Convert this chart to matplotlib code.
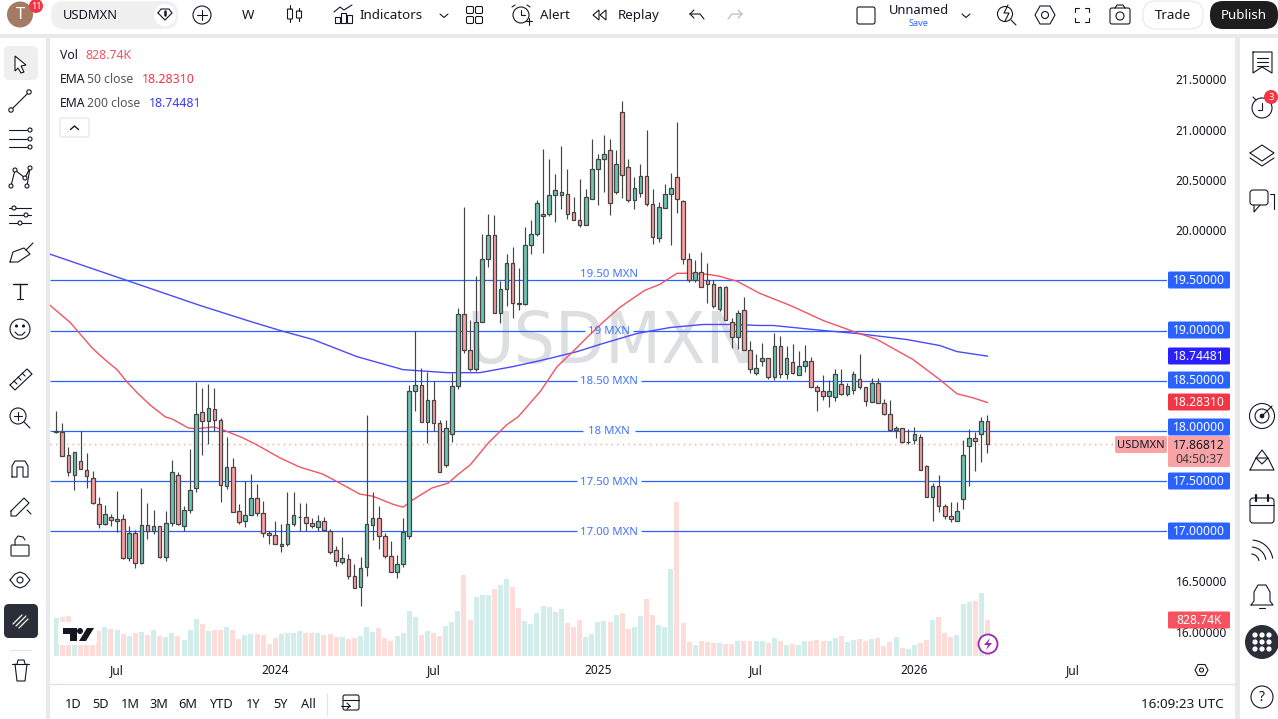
import matplotlib
matplotlib.use("Agg")
import matplotlib.pyplot as plt
from matplotlib.patches import Rectangle, FancyBboxPatch, Circle, Polygon
import math

plt.rcParams['font.family'] = ['Noto Sans', 'DejaVu Sans']

opens = [17.99,17.99,17.76,17.56,17.70,17.61,17.53,17.27,17.07,17.14,
 17.10,17.12,16.73,16.98,16.68,17.06,17.00,17.05,16.74,17.08,
 17.56,17.05,17.21,17.43,18.19,18.10,18.22,18.11,17.45,17.64,
 17.20,17.10,17.16,17.33,17.18,16.98,16.96,16.85,16.87,17.07,
 17.14,17.14,17.08,17.04,17.10,17.00,16.81,16.69,16.72,16.55,
 16.45,16.64,17.06,17.13,16.95,16.75,16.59,16.67,16.95,18.40,
 18.46,18.09,18.31,18.08,17.66,17.97,18.45,19.16,18.81,18.62,
 19.08,19.71,19.95,19.17,19.41,19.67,19.27,19.26,19.85,19.96,
 20.14,20.16,20.35,20.35,20.36,20.18,20.10,20.05,20.31,20.61,
 20.71,20.80,20.38,21.18,20.63,20.30,20.37,20.54,20.26,19.92,
 20.22,20.36,20.53,20.29,19.71,19.50,19.58,19.50,19.46,19.21,
 19.43,19.08,18.94,19.20,18.81,18.58,18.70,18.73,18.54,18.85,
 18.57,18.69,18.56,18.65,18.70,18.44,18.40,18.35,18.34,18.47,
 18.37,18.41,18.52,18.44,18.29,18.48,18.28,18.17,18.01,18.03,
 17.885,17.91,17.94,17.65,17.34,17.45,17.25,17.15,17.10,17.32,
 17.85,17.93,17.97,18.10]
closes = [18.00,17.75,17.59,17.79,17.62,17.55,17.28,17.07,17.17,17.11,
 17.12,16.73,16.98,16.68,17.06,17.00,17.05,16.74,17.08,17.59,
 17.07,17.21,17.41,18.17,18.10,18.23,18.11,17.46,17.64,17.19,
 17.09,17.16,17.33,17.18,16.98,16.96,16.87,16.87,17.07,17.16,
 17.14,17.08,17.05,17.10,17.01,16.79,16.70,16.73,16.55,16.44,
 16.63,17.07,17.13,16.95,16.75,16.59,16.67,16.99,18.40,18.46,
 18.09,18.31,18.08,17.59,18.03,18.45,19.16,18.81,18.62,19.08,
 19.71,19.95,19.17,19.41,19.67,19.27,19.26,19.85,19.96,20.27,
 20.16,20.35,20.40,20.38,20.16,20.10,20.05,20.33,20.61,20.71,
 20.76,20.27,20.66,20.55,20.30,20.42,20.54,20.26,19.93,20.23,
 20.36,20.42,20.31,19.71,19.50,19.58,19.43,19.46,19.24,19.43,
 19.10,18.94,19.17,18.81,18.62,18.63,18.73,18.54,18.85,18.57,
 18.73,18.58,18.65,18.70,18.44,18.40,18.35,18.40,18.57,18.37,
 18.45,18.57,18.44,18.30,18.48,18.28,18.17,18.01,18.03,17.89,
 17.89,17.97,17.61,17.34,17.45,17.25,17.15,17.12,17.20,17.76,
 17.93,17.90,18.10,17.868]
highs = [18.20,18.08,17.84,17.79,18.00,17.78,17.60,17.34,17.26,17.17,
 17.40,17.17,17.05,17.01,17.43,17.28,17.21,17.05,17.20,17.71,
 17.59,17.25,17.82,18.49,18.43,18.47,18.43,18.13,17.94,17.73,
 17.27,17.50,17.57,17.47,17.30,17.00,17.10,17.07,17.39,17.39,
 17.28,17.28,17.13,17.16,17.14,17.02,16.85,16.94,16.77,16.67,
 16.74,18.16,17.39,17.25,16.98,16.90,16.76,17.13,18.46,19.00,
 18.63,18.59,18.50,18.11,18.11,18.58,19.22,20.23,19.10,19.54,
 19.96,20.16,20.15,19.49,19.76,19.83,19.62,20.03,20.10,20.30,
 20.81,20.71,20.56,20.84,20.61,20.33,20.51,20.41,20.91,20.76,
 20.95,20.91,20.80,21.29,20.71,20.53,20.66,21.00,20.41,20.28,
 20.46,20.57,21.08,20.30,19.77,19.70,19.78,19.67,19.50,19.44,
 19.44,19.12,19.20,19.33,18.90,18.77,18.88,18.73,18.98,18.95,
 18.85,18.87,18.80,18.86,18.74,18.46,18.56,18.51,18.62,18.62,
 18.48,18.60,18.77,18.44,18.53,18.53,18.32,18.31,18.05,18.03,
 18.02,18.04,17.97,17.66,17.48,17.56,17.27,17.29,17.29,17.91,
 18.02,17.99,18.14,18.16]
lows = [17.98,17.75,17.55,17.41,17.62,17.43,17.27,17.03,17.06,17.05,
 16.99,16.72,16.70,16.63,16.67,16.92,16.97,16.73,16.70,17.05,
 17.06,17.00,17.18,17.39,17.76,17.87,18.00,17.29,17.42,17.19,
 17.07,17.04,17.16,17.15,16.94,16.87,16.87,16.79,16.85,17.05,
 17.00,17.00,17.03,17.00,17.01,16.77,16.65,16.67,16.52,16.44,
 16.26,16.55,16.91,16.82,16.73,16.59,16.53,16.64,16.92,18.20,
 18.09,17.88,18.00,17.59,17.64,17.89,18.42,18.78,18.60,18.60,
 19.08,19.63,19.17,19.07,19.24,19.12,19.20,19.25,19.76,19.94,
 19.77,20.14,20.08,20.21,20.11,20.10,20.03,20.05,20.31,20.25,
 20.38,20.15,20.36,20.32,20.28,20.21,20.33,20.24,19.86,19.88,
 20.22,19.85,20.17,19.66,19.48,19.48,19.43,19.27,19.22,19.19,
 19.10,18.83,18.82,18.81,18.58,18.56,18.65,18.52,18.51,18.53,
 18.52,18.57,18.56,18.59,18.44,18.20,18.31,18.24,18.30,18.36,
 18.35,18.37,18.42,18.25,18.29,18.28,18.16,18.00,17.93,17.88,
 17.87,17.87,17.61,17.34,17.10,17.19,17.12,17.09,17.10,17.22,
 17.45,17.60,17.69,17.78]
volumes_k = [874,897,920,782,736,644,560,575,667,621,
 598,506,460,529,552,483,598,460,437,529,
 460,368,598,851,736,575,598,598,667,598,
 391,483,506,506,483,276,414,506,529,529,
 575,529,529,529,483,506,437,437,391,414,
 460,667,552,644,414,345,460,529,1035,897,
 483,575,529,460,690,782,1035,1864,828,1358,
 1404,1404,1542,1634,1772,1588,1104,805,736,989,
 1151,1127,1012,1081,759,667,828,437,506,782,
 805,782,943,989,621,667,920,1312,943,713,
 667,2002,3544,759,322,253,345,322,299,299,
 276,276,345,345,345,345,345,299,414,345,
 253,276,253,345,345,368,345,345,414,460,
 322,368,391,345,391,414,230,322,437,184,
 161,253,299,368,828,897,529,437,483,1197,
 1243,1266,1450,829]
ema50_idx = [-1,2.3,6,8,10,11.6,13.3,15.4,17.9,19,21.7,23,25.8,27,30.7,33,36.8,40,43.8,46.6,49.9,52,55.3,57,58.5,61.7,64.4,65.9,68,71,74,75.9,79.5,82.3,84.9,87.2,89.8,92.6,96.7,99.2,102,103.6,107,109,111.9,115.6,120.6,126,131,134.9,140.8,145.2,148,150.6,153]
ema50_val = [19.25,19.08,18.82,18.71,18.61,18.49,18.38,18.26,18.14,18.12,18.03,18.02,18.04,18.02,17.93,17.86,17.73,17.64,17.57,17.48,17.37,17.35,17.27,17.24,17.31,17.43,17.48,17.56,17.66,17.88,18.06,18.14,18.39,18.64,18.79,18.93,19.08,19.23,19.40,19.46,19.57,19.57,19.56,19.54,19.49,19.37,19.25,19.10,18.99,18.91,18.71,18.51,18.37,18.33,18.2831]
ema200_idx = [-1,7.2,15.4,23.6,31.9,36.8,42.2,49.4,57,64.2,69.6,75,79.5,81.6,85.6,89.8,95.4,100.9,106.3,111.2,115.6,117.8,126,131.6,139.8,145.2,148,153]
ema200_val = [19.76,19.59,19.42,19.25,19.09,19.00,18.91,18.74,18.61,18.58,18.58,18.64,18.70,18.73,18.79,18.87,18.97,19.03,19.06,19.06,19.05,19.05,19.00,18.97,18.91,18.85,18.79,18.7448]
levels = [19.5,19.0,18.5,18.0,17.5,17.0]
level_labels = ["19.50 MXN","19 MXN","18.50 MXN","18 MXN","17.50 MXN","17.00 MXN"]
price_ticks = [16.0,16.5,20.0,20.5,21.0,21.5]
time_ticks = [10,36,62,89,115,141,167]
time_labels = ["Jul","2024","Jul","2025","Jul","2026","Jul"]
bold_time = {"2024","2025","2026"}

W, H = 1278, 719
fig = plt.figure(figsize=(W/100, H/100), dpi=100, facecolor='#e9e9eb')
def rect(l, t, r, b):
    return [l/W, 1-b/H, (r-l)/W, (b-t)/H]

bg = fig.add_axes([0,0,1,1], zorder=-1); bg.set_xlim(0,W); bg.set_ylim(H,0); bg.axis('off')
for (l,t,r,b) in [(0,0,W,34),(0,38,46,H),(50,38,1235,H),(1240,38,W,H)]:
    bg.add_patch(Rectangle((l,t),r-l,b-t,fc='white',ec='none'))
bg.plot([50,1235],[684,684],color='#e0e3eb',lw=1)

L,T,R,B = 50,38,1167,660
PX = 6.086
xlim = ((L-56.2)/PX,(R-56.2)/PX)
PPU = 100.4
ylim = (17+(531.3-B)/PPU, 17+(531.3-T)/PPU)

axv = fig.add_axes(rect(L,T,R,B), zorder=0, facecolor='none')
axv.set_xlim(*xlim)
kpp = 828.74/36
axv.set_ylim(-(B-656)*kpp,(656-T)*kpp)
axv.axis('off')
xs = list(range(len(opens)))
up = [c>=o for o,c in zip(opens,closes)]
axv.bar(xs,volumes_k,width=0.82,color=['#d2eeea' if u else '#fddcda' for u in up],lw=0,zorder=2)
axv.text((610.5-L)/(R-L),(B-344)/(B-T),"USDMXN",transform=axv.transAxes,ha='center',va='center',
         fontsize=52,color='#dddee1',zorder=1,family='DejaVu Sans',fontstretch='condensed')

ax = fig.add_axes(rect(L,T,R,B), zorder=1, facecolor='none')
ax.set_xlim(*xlim); ax.set_ylim(*ylim)
for s in ax.spines.values(): s.set_visible(False)
ax.yaxis.tick_right()
ax.set_yticks(price_ticks, [f"{p:.5f}" for p in price_ticks])
ax.tick_params(axis='y',length=0,pad=6.2,labelsize=8.6,labelcolor='#131722')
ax.set_xticks(time_ticks, time_labels)
ax.tick_params(axis='x',length=0,pad=3,labelsize=8.6,labelcolor='#131722')
for t in ax.get_xticklabels():
    if t.get_text() in bold_time: t.set_fontweight('bold')

yt = ax.get_yaxis_transform()
fx = lambda px:(px-L)/(R-L)
gaps = [None,(585,633),(577,641),(583,635),(577,641),(577,641)]
label_off = [-6,1,1,1,1,1]
for lv,lab,g,off in zip(levels,level_labels,gaps,label_off):
    if g is None:
        ax.plot([0,1],[lv,lv],transform=yt,color='#2962ff',lw=0.9,zorder=3,solid_capstyle='butt')
    else:
        ax.plot([0,fx(g[0])],[lv,lv],transform=yt,color='#2962ff',lw=0.9,zorder=3,solid_capstyle='butt')
        ax.plot([fx(g[1]),1],[lv,lv],transform=yt,color='#2962ff',lw=0.9,zorder=3,solid_capstyle='butt')
    ax.text(fx(609),lv-off/PPU,lab,transform=yt,ha='center',va='center',fontsize=8.2,color='#3f74ff',zorder=6)

ax.axhline(closes[-1],color='#f9a3a3',lw=1,ls=(0,(1,3)),zorder=2)
ax.plot(ema200_idx,ema200_val,color='#4a4aff',lw=1.0,zorder=4)
ax.plot(ema50_idx,ema50_val,color='#f2545f',lw=1.0,zorder=4)

edge = '#454545'
ax.vlines(xs,lows,highs,color=edge,lw=0.85,zorder=5)
ax.bar(xs,[abs(c-o) for o,c in zip(opens,closes)],bottom=[min(o,c) for o,c in zip(opens,closes)],
       width=0.6,color=['#6cc5b2' if u else '#f9a0a0' for u in up],edgecolor=edge,lw=0.9,zorder=5.5)

ov = fig.add_axes([0,0,1,1], zorder=2, facecolor='none'); ov.set_xlim(0,W); ov.set_ylim(H,0); ov.axis('off')
def txt(x,y,s,size=9.3,c='#131722',ha='left',w='normal',va='center',**k):
    return ov.text(x,y+0.6,s,fontsize=size,color=c,ha=ha,va=va,fontweight=w,**k)
def line(pts,c='#131722',lw=0.8,**k):
    ov.plot([p[0] for p in pts],[p[1] for p in pts],color=c,lw=lw,solid_capstyle='round',solid_joinstyle='round',**k)
def box(l,t,r,b,fc,ec='none',rad=2,lw=0.8,z=1):
    ov.add_patch(FancyBboxPatch((l+rad,t+rad),r-l-2*rad,b-t-2*rad,boxstyle=f"round,pad={rad},rounding_size={rad}",fc=fc,ec=ec,lw=lw,zorder=z))
def circ(x,y,r,fc='none',ec='#131722',lw=0.8,z=3):
    ov.add_patch(Circle((x,y),r,fc=fc,ec=ec,lw=lw,zorder=z))
def poly(pts,fc='none',ec='#131722',lw=0.8,z=4):
    ov.add_patch(Polygon(pts,fc=fc,ec=ec,lw=lw,zorder=z))

tags = [(280,"19.50000",'#2962ff'),(330,"19.00000",'#2962ff'),(356,"18.74481",'#2a1fff'),(380,"18.50000",'#2962ff'),
        (402,"18.28310",'#f23645'),(427,"18.00000",'#2962ff'),(481,"17.50000",'#2962ff'),(531,"17.00000",'#2962ff'),
        (620,"828.74K",'#f7525f')]
for y,s,c in tags:
    box(1168,y-8.5,1230,y+8.5,c,rad=1.5)
    txt(1199,y,s,8.7,'white','center',zorder=5)
box(1168,436,1230,467,'#f9a3a6',rad=1.5)
txt(1199,445,"17.86812",8.7,'#131722','center',zorder=5)
txt(1199,459,"04:50:37",8.7,'#3c3c40','center',zorder=5)
box(1115,436,1167,453,'#f9a3a6',rad=1.5)
txt(1141,444.5,"USDMXN",8.0,'#131722','center',zorder=5)

txt(60,55,"Vol",8.8); txt(85,55,"828.74K",8.8,'#f7525f')
txt(60,78.5,"EMA",8.8); txt(87,78.5,"50 close",8.8,'#555'); txt(142,78.5,"18.28310",8.9,'#f23645')
txt(60,102.5,"EMA",8.8); txt(87,102.5,"200 close",8.8,'#555'); txt(149,102.5,"18.74481",8.9,'#3a3aff')
box(60,118,89,137,'white','#e0e3eb',rad=2)
line([(70.5,129.5),(74.5,126),(78.5,129.5)],lw=1.0)

circ(20,14.5,13,'#a47a62','none'); txt(20,14.5,"T",12,'white','center',zorder=5)
circ(36,6,7,'#f23645','none',z=4); txt(36,5.5,"11",6.5,'white','center',zorder=5)
box(51,1,178,29,'#f0f0f0',rad=13)
txt(63,15,"USDMXN",9.3,w='bold')
circ(165,15,11,'white','none',z=1)
line([(158,13),(161,9),(169,9),(172,13),(165,20),(158,13)]); line([(165,11),(165,15)],lw=1.8)
circ(202,15,9); line([(197,15),(207,15)]); line([(202,10),(202,20)])
txt(248,15,"W",9.6,ha='center')
for x,t,b,wt,wb in [(290,9,19,5,22),(299,11,18,8,21)]:
    box(x-2.5,t,x+2.5,b,'white','#131722',rad=.5); line([(x,wt),(x,t)]); line([(x,b),(x,wb)])
for x,h in [(337,6),(343,10),(349,8)]:
    ov.add_patch(Rectangle((x-2.5,23-h),5,h,fc='none',ec='#131722',lw=0.8))
line([(334,12),(340,7),(344,10),(352,5)])
txt(360,15,"Indicators",9.6)
line([(440,14),(444,17.5),(448,14)],lw=.8)
for x,y in [(470,10),(479,10),(470,20),(479,20)]:
    box(x-3.5,y-3.5,x+3.5,y+3.5,'white','#131722',rad=1.5)
circ(521,15,8); line([(521,10),(521,15),(525,15)]); line([(526,21),(532,21)]); line([(529,18),(529,25)])
line([(512,7),(515,5)]); line([(527,5),(530,7)])
poly([(599,10),(593,15),(599,20)]); poly([(606,10),(600,15),(606,20)])
txt(540,15,"Alert",9.6)
txt(618,15,"Replay",9.6)
line([(690,14),(694,10)]); line([(690,14),(694,18)]); line([(690,14),(700,14),(704,19)])
line([(742,14),(738,10)],c='#b2b5be'); line([(742,14),(738,18)],c='#b2b5be'); line([(742,14),(732,14),(728,19)],c='#b2b5be')
box(857,7,875,24,'white','#131722',rad=2)
txt(919,10,"Unnamed",9.3,ha='center'); txt(919,23,"Save",6.6,'#2962ff','center')
line([(962,14),(966,17.5),(970,14)],lw=.8)
circ(1005,14,7.5); line([(1011,20),(1016,25)]); line([(1008,5),(1004,13),(1009,13),(1005,21)],lw=.8)
poly([(1035,15),(1040,6),(1050,6),(1055,15),(1050,24),(1040,24)]); circ(1045,15,3.5)
for (a,b,c) in [((1075,12),(1075,8),(1079,8)),((1085,8),(1089,8),(1089,12)),((1075,18),(1075,22),(1079,22)),((1085,22),(1089,22),(1089,18))]:
    line([a,b,c])
box(1110,8,1130,24,'white','#131722',rad=2); circ(1120,16,4,z=4); line([(1115,8),(1117,5),(1123,5),(1125,8)])
box(1143,1,1203,29,'white','#e8e8ea',rad=13); txt(1173,15,"Trade",9.6,ha='center',zorder=5)
box(1210,1,1278,29,'#1e1e1e',rad=13); txt(1244,15,"Publish",9.6,'white','center',zorder=5)

box(4,46,38,80,'#efefef',rad=5)
poly([(15,56),(26,65),(21,66),(24,72),(21,73),(18,68),(15,71)],fc='white')
line([(11,110),(29,92)]); circ(11,110,2.2,'white'); circ(29,92,2.2,'white')
for y in [130,139,147]:
    line([(9,y),(27,y)]); circ(30,y,2,'white')
line([(11,186),(15,170),(25,178),(30,168),(27,186)])
for p in [(11,186),(15,170),(25,178),(30,168),(27,186)]: circ(*p,2,'white')
for y,o in [(208,14),(215,26),(223,20)]:
    line([(9,y),(31,y)]); circ(o,y,2,'white')
line([(10,262),(13,252),(24,248),(30,254),(18,262),(10,262)]); line([(26,250),(33,243)])
line([(13,284),(27,284)],lw=1.0); line([(20,284),(20,299)],lw=1.0); line([(17,299),(23,299)])
circ(20,329,10); circ(16.5,326,1,'#131722'); circ(23.5,326,1,'#131722'); line([(15,332),(18,335),(22,335),(25,332)])
line([(10,385),(27,369),(32,374),(15,390),(10,385)])
for a,b in [((14,381),(17,384)),((18,377),(21,380)),((22,373),(25,376))]: line([a,b])
circ(18,416,8); line([(24,422),(30,428)]); line([(14,416),(22,416)]); line([(18,412),(18,420)])
line([(12,477),(12,466),(15,461),(25,461),(28,466),(28,477),(23,477),(23,467),(17,467),(17,477),(12,477)])
line([(11,511),(24,498),(29,503),(16,516),(11,516),(11,511)]); line([(27,510),(31,514)])
box(11,545,29,556,'white','#131722',rad=1); line([(15,545),(15,540),(18,536),(23,537),(25,540)])
line([(10,580),(15,574),(20,572),(25,574),(30,580),(25,586),(20,588),(15,586),(10,580)]); circ(20,580,3)
box(4,604,38,638,'#2a2e39',rad=5)
line([(16,626),(26,616)],c='white',lw=0.9); line([(13,624),(22,615)],c='white',lw=0.9); line([(19,628),(28,619)],c='white',lw=0.9)
line([(10,650),(31,650)],c='#e0e3eb')
line([(12,664),(29,664)]); line([(15,664),(17,681),(25,681),(27,664)]); line([(17,664),(18,660),(24,660),(25,664)])

line([(1253,52),(1272,52),(1272,73),(1262,67),(1253,73),(1253,52)])
for y in [58,62,66]: line([(1257,y),(1268,y)])
circ(1262,108,10); line([(1262,103),(1262,110),(1258,110)]); line([(1253,97),(1256,100)])
circ(1271,97,7,'#f23645','none',z=4); txt(1271,96.5,"3",7,'white','center',zorder=5)
line([(1250,153),(1262,145),(1274,153),(1262,161),(1250,153)]); line([(1250,158),(1262,166),(1274,158)])
box(1250,190,1268,205,'white','#131722',rad=3); line([(1254,205),(1254,212),(1260,205)]); line([(1270,194),(1274,194),(1274,209)])
circ(1262,416,12.5); circ(1262,416,7); circ(1262,416,1.8,'#131722'); line([(1262,416),(1272,406)])
line([(1250,470),(1256,458),(1268,458),(1274,470),(1250,470)]); line([(1256,458),(1262,450),(1268,458),(1262,464),(1256,458)])
box(1250,498,1274,523,'white','#131722',rad=3); line([(1250,505),(1274,505)]); line([(1256,495),(1256,501)],lw=1.6); line([(1268,495),(1268,501)],lw=1.6)
for r in [8,15,22]:
    th=[math.radians(a) for a in range(-85,-5,5)]
    line([(1251+r*math.cos(t),562+r*math.sin(t)) for t in th])
line([(1251,605),(1254,601),(1254,592),(1258,585),(1266,585),(1270,592),(1270,601),(1273,605),(1251,605)]); line([(1259,608),(1265,608)])
circ(1262,642,17,'#2a2e39','none',z=1)
for dx in (-7,0,7):
    for dy in (-7,0,7):
        circ(1262+dx,642+dy,2.6,'white','none',z=4)
circ(1262,697,11); txt(1262,697,"?",10,ha='center',zorder=5)

for x,s in [(73,"1D"),(101,"5D"),(130,"1M"),(159,"3M"),(188,"6M"),(221,"YTD"),(253,"1Y"),(281,"5Y"),(308,"All")]:
    txt(x,704,s,9.2,ha='center')
line([(327,693),(327,715)],c='#e0e3eb')
box(343,695,359,710,'white','#131722',rad=2); line([(343,700),(359,700)]); line([(341,706),(350,706)]); line([(347,703),(350,706),(347,709)])
txt(1224,704,"16:09:23 UTC",9.7,ha='right')
poly([(1195,670),(1198,664.5),(1205,664.5),(1208,670),(1205,675.5),(1198,675.5)]); circ(1201.5,670,2)

box(58,622,97,645,'white',rad=3)
poly([(63,628),(77,628),(77,641),(70,641),(70,634),(63,634)],fc='#131722',ec='none')
circ(80,631,3,'#131722','none',z=4); poly([(87,628),(94,628),(86,641),(79,641)],fc='#131722',ec='none')
circ(988,644,9.5,'white','#9c27b0',lw=1.3,z=3); poly([(990,638),(984,645),(988,645),(986,650),(992,643),(988,643)],fc='#9c27b0',ec='none')

fig.savefig("out.png",dpi=100,facecolor=fig.get_facecolor())
